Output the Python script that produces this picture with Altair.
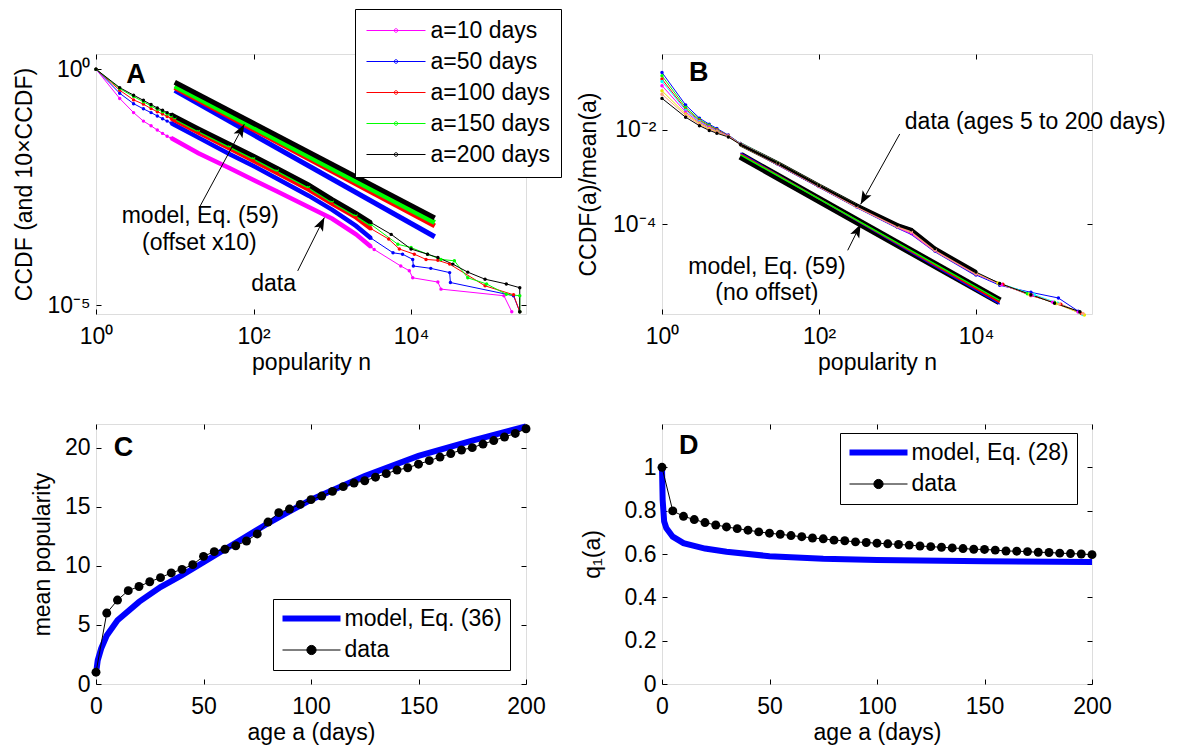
import altair as alt
import pandas as pd

FONT = "Liberation Sans"
FS = 23
TICK = 5
W, H = 430, 260

# ======================= Panel A data =======================
A_series = ["a=10 days", "a=50 days", "a=100 days", "a=150 days", "a=200 days"]
A_colors = ["#ff00ff", "#0000ff", "#ff0000", "#00ff00", "#000000"]

A_n_head = [1, 2, 3, 4, 5, 6, 7, 8, 9, 10]
A_n_band = [20, 50, 100, 200, 500, 1000, 2000, 3100]
# log10 of CCDF
A_head_a10 = [0, -0.62, -0.92, -1.10, -1.20, -1.29, -1.36, -1.42, -1.46, -1.50]
A_head_a50 = [0, -0.51, -0.73, -0.84, -0.92, -0.99, -1.05, -1.10, -1.14, -1.18]
A_head_a100 = [0, -0.445, -0.65, -0.74, -0.835, -0.90, -0.95, -1.00, -1.04, -1.08]
A_head_a150 = [0, -0.41, -0.58, -0.69, -0.78, -0.85, -0.90, -0.95, -0.99, -1.03]
A_head_a200 = [0, -0.39, -0.55, -0.66, -0.75, -0.82, -0.87, -0.92, -0.96, -1.00]
A_band_a10 = [-1.78, -2.10, -2.35, -2.59, -2.92, -3.17, -3.50, -3.76]
A_band_a50 = [-1.45, -1.80, -2.05, -2.32, -2.68, -2.98, -3.32, -3.58]
A_band_a100 = [-1.34, -1.68, -1.94, -2.20, -2.55, -2.85, -3.14, -3.38]
A_band_a150 = [-1.29, -1.62, -1.87, -2.13, -2.48, -2.79, -3.08, -3.29]
A_band_a200 = [-1.26, -1.59, -1.84, -2.10, -2.45, -2.76, -3.05, -3.25]
A_tail_n_a10 = [3400, 7400, 9500, 10500, 21900, 24000, 151000, 190000]
A_tail_a10 = [-3.82, -4.17, -4.27, -4.42, -4.51, -4.66, -4.80, -5.14]
A_tail_n_a50 = [5900, 7800, 10500, 10700, 17800, 30900, 31600, 200000, 240000]
A_tail_a50 = [-3.89, -3.92, -4.03, -4.17, -4.22, -4.31, -4.52, -4.80, -5.14]
A_tail_n_a100 = [5200, 7100, 11000, 15500, 21900, 30900, 87000, 200000, 240000]
A_tail_a100 = [-3.60, -3.81, -3.92, -4.03, -4.05, -4.13, -4.59, -4.78, -5.14]
A_tail_n_a150 = [6800, 10000, 16200, 24000, 35500, 52500, 91000, 162000, 240000, 240000]
A_tail_a150 = [-3.71, -3.78, -3.92, -4.03, -4.06, -4.42, -4.55, -4.77, -4.80, -5.14]
A_tail_n_a200 = [5600, 10000, 16200, 21900, 33900, 52500, 87000, 162000, 240000, 240000]
A_tail_a200 = [-3.50, -3.81, -3.92, -3.99, -4.13, -4.30, -4.45, -4.55, -4.63, -5.14]

# model lines (offset x10), log10 values at n = 10 and n = 20000
A_model_n = [10, 20000]
A_model_series = ["a=50 days", "a=100 days", "a=150 days", "a=200 days"]
A_model_vals = [[-0.45, -3.55], [-0.39, -3.32], [-0.354, -3.25], [-0.275, -3.15]]

# ======================= Panel B data =======================
B_series = ["5", "10", "20", "35", "60", "90", "130", "200"]
B_colors = ["#0000ff", "#00ff00", "#ff0000", "#00ffff", "#ff00ff", "#e6e600", "#ff9f80", "#000000"]
B_n_head = [1, 2, 3, 4, 5, 7, 10]
B_n_band = [30, 100, 300, 1000, 1500, 3000, 10000]
B_head = [
    [-0.78, -1.47, -1.75, -1.88, -1.97, -2.11, -2.29],
    [-0.85, -1.52, -1.78, -1.90, -1.99, -2.12, -2.29],
    [-0.92, -1.56, -1.80, -1.92, -2.00, -2.12, -2.30],
    [-0.97, -1.58, -1.82, -1.94, -2.02, -2.13, -2.30],
    [-1.06, -1.62, -1.84, -1.95, -2.03, -2.13, -2.30],
    [-1.17, -1.66, -1.86, -1.97, -2.04, -2.14, -2.31],
    [-1.24, -1.69, -1.88, -1.99, -2.05, -2.14, -2.31],
    [-1.33, -1.73, -1.91, -2.01, -2.07, -2.15, -2.31],
]
B_band = [
    [-2.73, -3.20, -3.63, -4.07, -4.20, -4.57, -5.08],
    [-2.72, -3.19, -3.62, -4.06, -4.18, -4.56, -5.06],
    [-2.72, -3.19, -3.62, -4.05, -4.17, -4.55, -5.05],
    [-2.71, -3.18, -3.61, -4.05, -4.16, -4.55, -5.04],
    [-2.72, -3.19, -3.62, -4.06, -4.19, -4.56, -5.06],
    [-2.71, -3.18, -3.61, -4.04, -4.15, -4.54, -5.04],
    [-2.72, -3.19, -3.62, -4.05, -4.17, -4.55, -5.05],
    [-2.71, -3.18, -3.60, -4.02, -4.12, -4.52, -5.02],
]
B_tail_n = [
    [20000, 50000, 112000, 200000],
    [20000, 45000, 100000, 210000],
    [22000, 50000, 120000, 220000],
    [20000, 55000, 110000, 230000],
    [21000, 52000, 95000, 200000],
    [19000, 48000, 105000, 240000],
    [20000, 50000, 115000, 230000],
    [20000, 50000, 100000, 210000],
]
B_tail = [
    [-5.30, -5.45, -5.57, -5.85],
    [-5.27, -5.48, -5.66, -5.88],
    [-5.28, -5.52, -5.70, -5.90],
    [-5.26, -5.50, -5.68, -5.92],
    [-5.29, -5.51, -5.66, -5.87],
    [-5.25, -5.49, -5.69, -5.93],
    [-5.27, -5.50, -5.70, -5.90],
    [-5.26, -5.50, -5.68, -5.86],
]
B_model_n = [10, 20000]
B_model_thick = [-2.55, -5.64]
B_model_thin_colors = ["#0000ff", "#ff0000", "#00ff00"]
B_model_thin = [[-2.49, -5.70], [-2.51, -5.66], [-2.53, -5.62]]

# ======================= Panel C / D data =======================
CD_age = [0, 5, 10, 15, 20, 25, 30, 35, 40, 45, 50, 55, 60, 65, 70, 75, 80, 85, 90, 95, 100,
          105, 110, 115, 120, 125, 130, 135, 140, 145, 150, 155, 160, 165, 170, 175, 180, 185,
          190, 195, 200]
C_mean = [1.0, 6.0, 7.1, 7.9, 8.25, 8.65, 9.0, 9.4, 9.7, 10.1, 10.8, 11.2, 11.4, 11.7, 12.1,
          12.7, 13.7, 14.5, 14.8, 15.2, 15.6, 15.9, 16.3, 16.7, 17.0, 17.2, 17.5, 17.8, 18.1,
          18.3, 18.6, 18.9, 19.2, 19.5, 19.8, 20.0, 20.3, 20.6, 20.9, 21.2, 21.6]
C_model_age = [0.3, 0.8, 2.4, 5, 10, 20, 30, 40, 50, 60, 70, 80, 90, 100, 125, 150, 175, 200]
C_model = [1.3, 2.0, 3.0, 4.1, 5.4, 6.95, 8.2, 9.2, 10.3, 11.4, 12.5, 13.6, 14.6, 15.6, 17.6,
           19.3, 20.6, 21.8]
D_q1 = [1.0, 0.799, 0.774, 0.759, 0.745, 0.734, 0.725, 0.717, 0.710, 0.702, 0.696, 0.691,
        0.685, 0.680, 0.674, 0.670, 0.664, 0.661, 0.656, 0.653, 0.650, 0.647, 0.644, 0.641,
        0.637, 0.634, 0.631, 0.628, 0.625, 0.622, 0.621, 0.618, 0.614, 0.613, 0.611, 0.608,
        0.607, 0.604, 0.602, 0.600, 0.597]
D_model_age = [0, 0.3, 1, 2, 5, 10, 20, 30, 50, 75, 100, 150, 200]
D_model = [1.0, 0.85, 0.75, 0.72, 0.68, 0.65, 0.625, 0.61, 0.59, 0.578, 0.572, 0.566, 0.563]

# tick values / labels
A_xticks, A_xlabels = [1, 100, 10000], ["10⁰", "10²", "10⁴"]
A_yticks, A_ylabels = [1e-5, 1], ["10⁻⁵", "10⁰"]
B_yticks, B_ylabels = [1e-4, 1e-2], ["10⁻⁴", "10⁻²"]
C_xticks = [0, 50, 100, 150, 200]
C_yticks = [0, 5, 10, 15, 20]
D_yticks = [0, 0.2, 0.4, 0.6, 0.8, 1]

# annotations (data coordinates)
A_text = pd.DataFrame({"n": [21.1, 20.5, 179.5], "v": [7.8e-4, 2.12e-4, 2.82e-5],
                       "t": ["model, Eq. (59)", "(offset x10)", "data"]})
A_arrows = pd.DataFrame({"n": [20.5, 364], "v": [1.17e-3, 5.33e-5],
                         "n2": [76.4, 793], "v2": [0.0684, 7.18e-4], "ang": [28.4, 26.5]})
B_text = pd.DataFrame({"n": [56750, 21.7, 21.7], "v": [0.01445, 1.23e-5, 3.47e-6],
                       "t": ["data (ages 5 to 200 days)", "model, Eq. (59)", "(no offset)"]})
B_arrows = pd.DataFrame({"n": [1067, 232], "v": [8.2e-3, 2.77e-5],
                         "n2": [339, 339], "v2": [2.63e-4, 9.86e-5], "ang": [208.9, 26.6]})

ARROW = "M0,0L-0.38,1L0,0.78L0.38,1Z"
# legend symbols (size 100 -> 1 unit = 5 px)
A_SYM = "M-5.9,0H5.9M-0.36,0A0.36,0.36,0,1,1,0.36,0A0.36,0.36,0,1,1,-0.36,0"
LINE_SYM = "M-5.8,0H5.8"
DATA_SYM = "M-5.8,0H5.8M0.92,0A0.92,0.92,0,1,1,-0.92,0A0.92,0.92,0,1,1,0.92,0Z"


def label_expr(values, labels):
    parts = [f"abs(datum.value/{v}-1)<1e-6 ? '{l}'" for v, l in zip(values, labels)]
    return " : ".join(parts) + " : ''"


def carriers(xs, ys, xticks, yticks, xax, yax):
    df = pd.DataFrame({"x": [xticks[0]], "y": [yticks[0]]})
    main = alt.Chart(df).mark_point(opacity=0).encode(
        x=alt.X("x:Q", scale=xs, axis=xax), y=alt.Y("y:Q", scale=ys, axis=yax))

    def inner(ox, oy):
        ax = dict(offset=-TICK, labels=False, domain=False, grid=False, ticks=True,
                  tickSize=TICK, tickColor="black", tickWidth=1, title=None)
        return alt.Chart(df).mark_point(opacity=0).encode(
            x=alt.X("x:Q", scale=xs, axis=alt.Axis(orient=ox, values=xticks, **ax)),
            y=alt.Y("y:Q", scale=ys, axis=alt.Axis(orient=oy, values=yticks, **ax)))
    return [main, inner("bottom", "left"), inner("top", "right")]


def arrow_layers(df, xs, ys):
    rule = alt.Chart(df).mark_rule(color="black", strokeWidth=1).encode(
        x=alt.X("n:Q", scale=xs, axis=None), x2="n2:Q",
        y=alt.Y("v:Q", scale=ys, axis=None), y2="v2:Q")
    head = alt.Chart(df).mark_point(shape=ARROW, filled=True, color="black", opacity=1,
                                    size=700, strokeWidth=0).encode(
        x=alt.X("n2:Q", scale=xs, axis=None), y=alt.Y("v2:Q", scale=ys, axis=None),
        angle=alt.Angle("ang:Q", scale=None))
    return [rule, head]


def text_layer(df, xs, ys):
    return alt.Chart(df).mark_text(fontSize=FS, font=FONT, color="black", align="center",
                                   baseline="middle").encode(
        x=alt.X("n:Q", scale=xs, axis=None), y=alt.Y("v:Q", scale=ys, axis=None), text="t:N")


def letter_layer(letter, x, y, xs, ys):
    df = pd.DataFrame({"x": [x], "y": [y], "t": [letter]})
    return alt.Chart(df).mark_text(fontSize=27, font=FONT, fontWeight="bold", color="black",
                                   align="center", baseline="middle").encode(
        x=alt.X("x:Q", scale=xs, axis=None), y=alt.Y("y:Q", scale=ys, axis=None), text="t:N")


def xaxis(title, values, expr=None, fmt=None):
    kw = dict(title=title, values=values, ticks=False, domain=False, grid=False,
              labelPadding=11, titlePadding=3, labelFontSize=FS, titleFontSize=FS,
              labelColor="black", titleColor="black", titleFontWeight="normal",
              labelFont=FONT, titleFont=FONT, labelFlush=False)
    if expr:
        kw["labelExpr"] = expr
    if fmt:
        kw["format"] = fmt
    return alt.Axis(**kw)


def yaxis(title, values, tpad, expr=None, fmt=None):
    kw = dict(title=title, values=values, ticks=False, domain=False, grid=False,
              labelPadding=6, titlePadding=tpad, labelFontSize=FS, titleFontSize=FS,
              labelColor="black", titleColor="black", titleFontWeight="normal",
              labelFont=FONT, titleFont=FONT, labelFlush=False)
    if expr:
        kw["labelExpr"] = expr
    if fmt:
        kw["format"] = fmt
    return alt.Axis(**kw)


def col(c):
    return alt.Color("c:N", scale=None)


# ======================= build Panel A =======================
rows = []
heads = [A_head_a10, A_head_a50, A_head_a100, A_head_a150, A_head_a200]
bands = [A_band_a10, A_band_a50, A_band_a100, A_band_a150, A_band_a200]
tails_n = [A_tail_n_a10, A_tail_n_a50, A_tail_n_a100, A_tail_n_a150, A_tail_n_a200]
tails = [A_tail_a10, A_tail_a50, A_tail_a100, A_tail_a150, A_tail_a200]
for s, c, h, b, tn, t in zip(A_series, A_colors, heads, bands, tails_n, tails):
    ns = A_n_head + A_n_band + tn
    vs = h + b + t
    for i, (n, v) in enumerate(zip(ns, vs)):
        rows.append({"n": n, "v": 10 ** v, "s": s, "c": c, "o": i})
A_df = pd.DataFrame(rows)
A_cmap = dict(zip(A_series, A_colors))
A_mdf = pd.DataFrame([{"n": n, "v": 10 ** v, "s": s, "c": A_cmap[s], "o": i}
                      for s, vals in zip(A_model_series, A_model_vals)
                      for i, (n, v) in enumerate(zip(A_model_n, vals))])

A_xs = alt.Scale(type="log", domain=[1, 2.88e5], nice=False)
A_ys = alt.Scale(type="log", domain=[6.5e-6, 2.1], nice=False)
A_cs = alt.Scale(domain=A_series, range=A_colors)
A_leg = alt.Legend(title=None, orient="none", legendX=259, legendY=-45, direction="vertical",
                   symbolType=A_SYM, symbolSize=100, symbolStrokeWidth=1, labelFontSize=FS,
                   labelFont=FONT, labelColor="black", labelOffset=23, symbolOffset=19.5,
                   padding=10, rowPadding=7, strokeColor="black", fillColor="white",
                   labelLimit=400)

A_model = alt.Chart(A_mdf).mark_line(strokeWidth=5).encode(
    x=alt.X("n:Q", scale=A_xs, axis=None), y=alt.Y("v:Q", scale=A_ys, axis=None),
    color=col("c"), detail="s:N", order="o:Q")
A_thin = alt.Chart(A_df).mark_line(strokeWidth=1).encode(
    x=alt.X("n:Q", scale=A_xs, axis=None), y=alt.Y("v:Q", scale=A_ys, axis=None),
    color=alt.Color("s:N", scale=A_cs, legend=A_leg), order="o:Q")
A_thick = alt.Chart(A_df).transform_filter("datum.n >= 9 && datum.n <= 3200").mark_line(
    strokeWidth=4.5).encode(
    x=alt.X("n:Q", scale=A_xs, axis=None), y=alt.Y("v:Q", scale=A_ys, axis=None),
    color=col("c"), detail="s:N", order="o:Q")
A_pts = alt.Chart(A_df).mark_point(filled=True, size=12, opacity=1).encode(
    x=alt.X("n:Q", scale=A_xs, axis=None), y=alt.Y("v:Q", scale=A_ys, axis=None),
    color=col("c"))

panelA = alt.layer(
    A_model, A_thin, A_thick, A_pts,
    text_layer(A_text, A_xs, A_ys), *arrow_layers(A_arrows, A_xs, A_ys),
    letter_layer("A", 3.23, 0.757, A_xs, A_ys),
    *carriers(A_xs, A_ys, A_xticks, A_yticks,
              xaxis("popularity n", A_xticks, label_expr(A_xticks, A_xlabels)),
              yaxis("CCDF (and 10×CCDF)", A_yticks, 10, label_expr(A_yticks, A_ylabels)))
).resolve_axis(x="independent", y="independent").properties(width=W, height=H)

# ======================= build Panel B =======================
rows = []
for s, c, h, b, tn, t in zip(B_series, B_colors, B_head, B_band, B_tail_n, B_tail):
    ns = B_n_head + B_n_band + tn
    vs = h + b + t
    for i, (n, v) in enumerate(zip(ns, vs)):
        rows.append({"n": n, "v": 10 ** v, "s": s, "c": c, "o": i})
B_df = pd.DataFrame(rows)
B_thick_df = pd.DataFrame({"n": B_model_n, "v": [10 ** v for v in B_model_thick]})
B_thin_df = pd.DataFrame([{"n": n, "v": 10 ** v, "c": c}
                          for c, vals in zip(B_model_thin_colors, B_model_thin)
                          for n, v in zip(B_model_n, vals)])

B_xs = alt.Scale(type="log", domain=[1, 3.0e5], nice=False)
B_ys = alt.Scale(type="log", domain=[1.23e-6, 0.41], nice=False)

B_thin = alt.Chart(B_df).mark_line(strokeWidth=1).encode(
    x=alt.X("n:Q", scale=B_xs, axis=None), y=alt.Y("v:Q", scale=B_ys, axis=None),
    color=col("c"), detail="s:N", order="o:Q")
B_thick = alt.Chart(B_df).transform_filter("datum.n >= 9 && datum.n <= 11000").mark_line(
    strokeWidth=2.5).encode(
    x=alt.X("n:Q", scale=B_xs, axis=None), y=alt.Y("v:Q", scale=B_ys, axis=None),
    color=col("c"), detail="s:N", order="o:Q")
B_pts = alt.Chart(B_df).mark_point(filled=True, size=12, opacity=1).encode(
    x=alt.X("n:Q", scale=B_xs, axis=None), y=alt.Y("v:Q", scale=B_ys, axis=None),
    color=col("c"))
B_mthick = alt.Chart(B_thick_df).mark_line(strokeWidth=8, color="black").encode(
    x=alt.X("n:Q", scale=B_xs, axis=None), y=alt.Y("v:Q", scale=B_ys, axis=None))
B_mthin = alt.Chart(B_thin_df).mark_line(strokeWidth=1.5).encode(
    x=alt.X("n:Q", scale=B_xs, axis=None), y=alt.Y("v:Q", scale=B_ys, axis=None),
    color=col("c"), detail="c:N")
B_black_band = alt.Chart(B_df).transform_filter(
    "datum.s == '200' && datum.n >= 9 && datum.n <= 11000").mark_line(
    strokeWidth=4, color="black").encode(
    x=alt.X("n:Q", scale=B_xs, axis=None), y=alt.Y("v:Q", scale=B_ys, axis=None),
    order="o:Q")

panelB = alt.layer(
    B_mthick, B_mthin, B_black_band, B_thin, B_thick, B_pts,
    text_layer(B_text, B_xs, B_ys), *arrow_layers(B_arrows, B_xs, B_ys),
    letter_layer("B", 2.93, 0.16, B_xs, B_ys),
    *carriers(B_xs, B_ys, A_xticks, B_yticks,
              xaxis("popularity n", A_xticks, label_expr(A_xticks, A_xlabels)),
              yaxis("CCDF(a)/mean(a)", B_yticks, 12, label_expr(B_yticks, B_ylabels)))
).resolve_axis(x="independent", y="independent").properties(width=W, height=H)


# ======================= build Panels C and D =======================
def cd_legend(x, y):
    return alt.Legend(
        title=None, orient="none", legendX=x, legendY=y, direction="vertical",
        symbolSize=100, labelFontSize=FS, labelFont=FONT, labelColor="black",
        labelOffset=21.5, symbolOffset=19, padding=8, rowPadding=7.5, strokeColor="black",
        fillColor="white", labelLimit=400)


def cd_panel(series, model_age, model_vals, data_vals, ys, yticks, ytitle, ytpad, yfmt,
             legx, legy, letter, lx, ly):
    xs = alt.Scale(domain=[0, 200], nice=False, zero=False)
    mdf = pd.DataFrame({"a": model_age, "v": model_vals})
    ddf = pd.DataFrame({"a": CD_age, "v": data_vals})
    model = alt.Chart(mdf).mark_line(strokeWidth=6, color="#0000ff").encode(
        x=alt.X("a:Q", scale=xs, axis=None), y=alt.Y("v:Q", scale=ys, axis=None))
    line = alt.Chart(ddf).mark_line(strokeWidth=1, color="black").encode(
        x=alt.X("a:Q", scale=xs, axis=None), y=alt.Y("v:Q", scale=ys, axis=None))
    pts = alt.Chart(ddf).mark_point(filled=True, size=80, opacity=1, color="black").encode(
        x=alt.X("a:Q", scale=xs, axis=None), y=alt.Y("v:Q", scale=ys, axis=None))
    # legend carrier: points placed outside the plot area and clipped away
    ldf = pd.DataFrame({"a": [-500, -500], "v": [-500, -500], "s": series})
    leg = cd_legend(legx, legy)
    legl = alt.Chart(ldf).mark_point(clip=True, opacity=1).encode(
        x=alt.X("a:Q", scale=xs, axis=None), y=alt.Y("v:Q", scale=ys, axis=None),
        fill=alt.Fill("s:N", scale=alt.Scale(domain=series, range=["transparent", "#000000"]),
                      legend=leg),
        stroke=alt.Stroke("s:N", scale=alt.Scale(domain=series, range=["#0000ff", "#000000"]),
                          legend=leg),
        shape=alt.Shape("s:N", scale=alt.Scale(domain=series, range=[LINE_SYM, DATA_SYM]),
                        legend=leg),
        strokeWidth=alt.StrokeWidth("s:N", scale=alt.Scale(domain=series, range=[6, 1]),
                                    legend=leg))
    return alt.layer(
        model, line, pts, legl, letter_layer(letter, lx, ly, xs, ys),
        *carriers(xs, ys, C_xticks, yticks,
                  xaxis("age a (days)", C_xticks),
                  yaxis(ytitle, yticks, ytpad, fmt=yfmt))
    ).resolve_axis(x="independent", y="independent").properties(width=W, height=H)


panelC = cd_panel(["model, Eq. (36)", "data"], C_model_age, C_model, C_mean,
                  alt.Scale(domain=[0, 22], nice=False, zero=False), C_yticks,
                  "mean popularity", 10, None, 177, 175, "C", 12.8, 20.0)
panelD = cd_panel(["model, Eq. (28)", "data"], D_model_age, D_model, D_q1,
                  alt.Scale(domain=[0, 1.2], nice=False, zero=False), D_yticks,
                  "q₁(a)", 20, "~g", 178, 9, "D", 12.4, 1.10)

IND = dict(color="independent", fill="independent", stroke="independent",
           shape="independent", strokeWidth="independent")
chart = alt.concat(panelA, panelB, panelC, panelD, columns=2,
                   spacing={"row": 110, "column": 136}, bounds="flush").resolve_scale(
    **IND).resolve_legend(**IND).properties(
    padding={"left": 5, "top": 0, "right": 5, "bottom": 5}
).configure_view(stroke="black", strokeWidth=1.2).configure(background="white")

chart.save("out.html", embed_options={"renderer": "svg", "actions": False})
